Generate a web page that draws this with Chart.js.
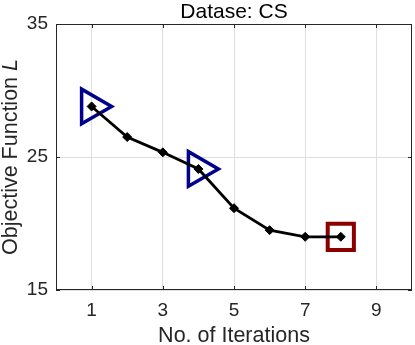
<!DOCTYPE html>
<html>
<head>
<meta charset="utf-8">
<script src="https://cdn.jsdelivr.net/npm/chart.js@4"></script>
<style>
  body { margin: 0; background: #fff; overflow: hidden; }
  #wrap { width: 415px; height: 345px; }
  canvas { display: block; }
</style>
</head>
<body>
<div id="wrap"><canvas id="lossChart" width="415" height="345"></canvas></div>
<script>
// values
const iterations = [1, 2, 3, 4, 5, 6, 7, 8];
const objective = [28.8, 26.5, 25.35, 24.1, 21.15, 19.5, 19.0, 19.0];
const triangleIters = [1, 4];
const squareIters = [8];
const xTicks = [1, 3, 5, 7, 9];
const yTicks = [15, 25, 35];
const chartTitle = 'Datase: CS';
const xTitle = 'No. of Iterations';
const yTitle = 'Objective Function ';
const yTitleItalic = 'L';

const fontFamily = '"Liberation Sans", Arial, sans-serif';
const textColor = '#262626';
const labelSize = 21.5;

const pick = iters => iters.map(it => ({ x: it, y: objective[iterations.indexOf(it)] }));

// box around the plot, inward tick marks, title and axis labels (the y label has an italic L)
const frameAndLabels = {
  id: 'frameAndLabels',
  afterDraw(chart) {
    const { ctx, chartArea: a, scales } = chart;
    const midX = (a.left + a.right) / 2;
    ctx.save();
    ctx.strokeStyle = textColor;
    ctx.lineWidth = 1;
    ctx.strokeRect(a.left + 0.5, a.top + 0.5, a.width - 1, a.height - 1);

    ctx.beginPath();
    xTicks.forEach(v => {
      const px = Math.round(scales.x.getPixelForValue(v)) + 0.5;
      ctx.moveTo(px, a.bottom); ctx.lineTo(px, a.bottom - 4);
      ctx.moveTo(px, a.top); ctx.lineTo(px, a.top + 4);
    });
    yTicks.forEach(v => {
      const py = Math.round(scales.y.getPixelForValue(v)) + 0.5;
      ctx.moveTo(a.left, py); ctx.lineTo(a.left + 4, py);
      ctx.moveTo(a.right, py); ctx.lineTo(a.right - 4, py);
    });
    ctx.stroke();

    ctx.textBaseline = 'alphabetic';
    ctx.textAlign = 'center';
    ctx.fillStyle = '#000';
    ctx.font = '21px ' + fontFamily;
    ctx.fillText(chartTitle, midX, 17.5);

    ctx.fillStyle = textColor;
    ctx.font = labelSize + 'px ' + fontFamily;
    ctx.fillText(xTitle, midX, 342);

    // rotated y label
    ctx.translate(17, (a.top + a.bottom) / 2);
    ctx.rotate(-Math.PI / 2);
    ctx.textAlign = 'left';
    const w1 = ctx.measureText(yTitle).width;
    ctx.font = 'italic ' + labelSize + 'px ' + fontFamily;
    const w2 = ctx.measureText(yTitleItalic).width;
    const start = -(w1 + w2) / 2;
    ctx.font = labelSize + 'px ' + fontFamily;
    ctx.fillText(yTitle, start, 0);
    ctx.font = 'italic ' + labelSize + 'px ' + fontFamily;
    ctx.fillText(yTitleItalic, start + w1, 0);
    ctx.restore();
  }
};

new Chart(document.getElementById('lossChart'), {
  type: 'line',
  data: {
    datasets: [
      {
        // main curve, drawn on top
        data: iterations.map((it, i) => ({ x: it, y: objective[i] })),
        borderColor: '#000',
        backgroundColor: '#000',
        borderWidth: 2.8,
        pointStyle: 'rectRot',
        pointRadius: 4.5,
        pointBorderWidth: 1,
        tension: 0,
        clip: false
      },
      {
        data: pick(triangleIters),
        showLine: false,
        pointStyle: 'triangle',
        pointRotation: 90,
        pointRadius: 20,
        pointBorderWidth: 3.5,
        borderColor: '#00008c',
        backgroundColor: 'rgba(0,0,0,0)',
        clip: false
      },
      {
        data: pick(squareIters),
        showLine: false,
        pointStyle: 'rect',
        pointRadius: 18.5,
        pointBorderWidth: 4,
        borderColor: '#8c0000',
        backgroundColor: 'rgba(0,0,0,0)',
        clip: false
      }
    ]
  },
  options: {
    responsive: false,
    animation: false,
    layout: { autoPadding: false, padding: { left: 0, right: 3, top: 24, bottom: 0 } },
    plugins: {
      legend: { display: false },
      tooltip: { enabled: false },
      title: { display: false }
    },
    scales: {
      x: {
        type: 'linear',
        min: 0,
        max: 10,
        afterBuildTicks: scale => { scale.ticks = xTicks.map(v => ({ value: v })); },
        afterFit: scale => { scale.height = 55; },
        ticks: {
          color: textColor,
          padding: 9,
          font: { family: fontFamily, size: 19 }
        },
        grid: { color: '#dfdfdf', drawTicks: false },
        border: { display: false }
      },
      y: {
        min: 15,
        max: 35,
        afterBuildTicks: scale => { scale.ticks = yTicks.map(v => ({ value: v })); },
        afterFit: scale => { scale.width = 56; },
        ticks: {
          color: textColor,
          padding: 8,
          font: { family: fontFamily, size: 19 }
        },
        grid: { color: '#dfdfdf', drawTicks: false },
        border: { display: false }
      }
    }
  },
  plugins: [frameAndLabels]
});
</script>
</body>
</html>
